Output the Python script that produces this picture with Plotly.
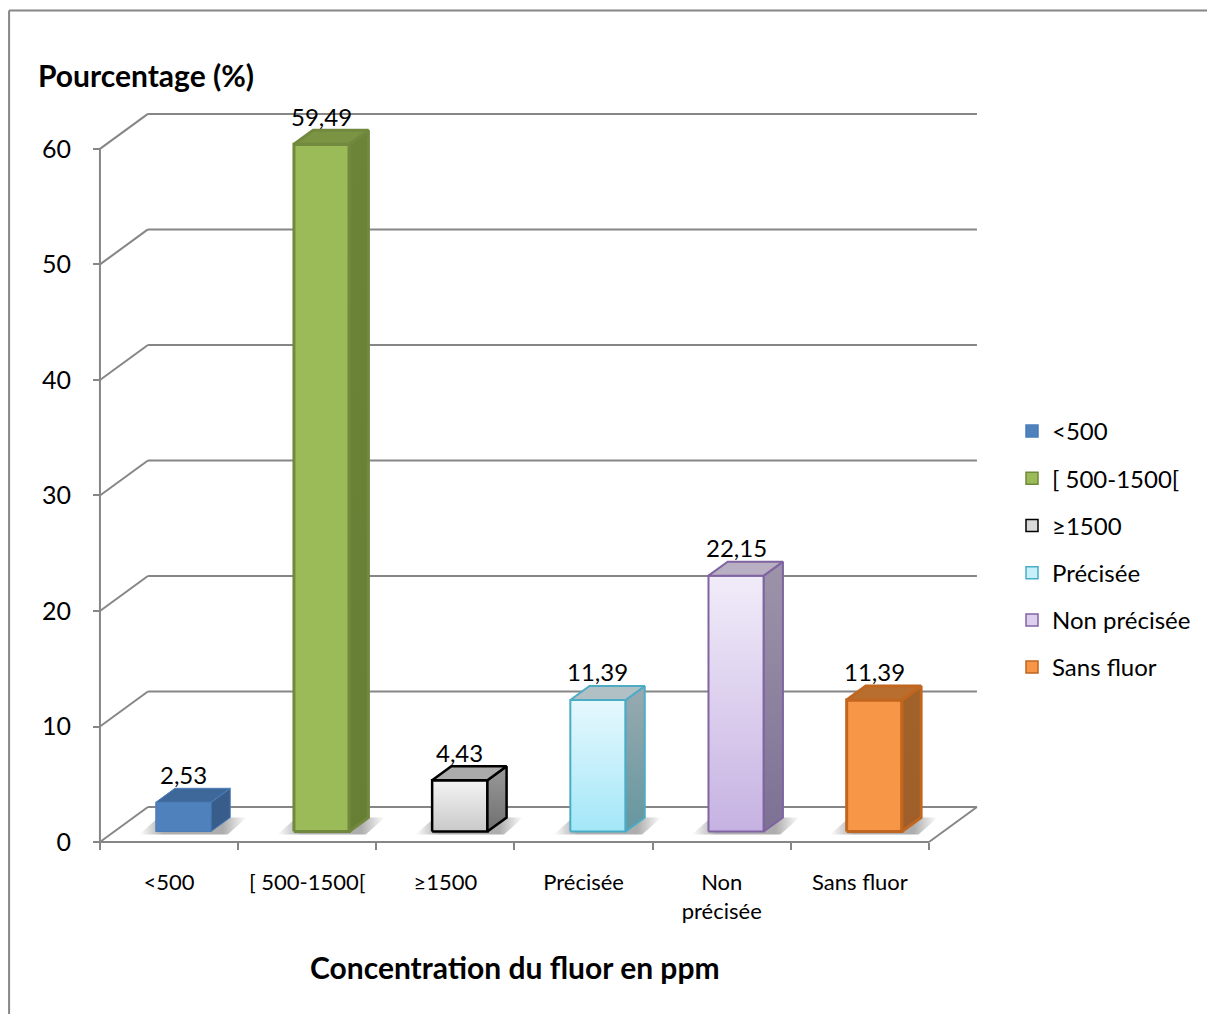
import plotly.graph_objects as go

# ---- data ----
categories = ["<500", "[ 500-1500[", "≥1500", "Précisée", "Non précisée", "Sans fluor"]
tick_labels = ["<500", "[ 500-1500[", "≥1500", "Précisée", "Non<br>précisée", "Sans fluor"]
values = [2.53, 59.49, 4.43, 11.39, 22.15, 11.39]
y_ticks = [0, 10, 20, 30, 40, 50, 60]

# ---- styles per series ----
front_top = ["#4F81BD", "#9BBB59", "#F4F4F4", "#E6F8FD", "#F1ECF9", "#F79646"]
front_bottom = ["#4F81BD", "#9BBB59", "#C9C9C9", "#A3E7F8", "#C6B2E2", "#F79646"]
side_top = ["#385D8A", "#6B8437", "#9A9A9A", "#98AAB0", "#9D94A9", "#A3612A"]
side_bottom = ["#385D8A", "#677F35", "#6F6F6F", "#66979F", "#7D7194", "#A05F2A"]
top_color = ["#3E6899", "#7A9443", "#ABABAB", "#B0C0C4", "#B8AFC2", "#B86E2F"]
edge_color = ["#4A7EBB", "#71893F", "#000000", "#4BACC6", "#8064A2", "#C0661F"]
edge_width = [1, 3, 2.5, 2, 2, 3]
legend_fill = ["#4F81BD", "#9BBB59", "#D9D9D9", "#C8F0FA", "#DCD0EE", "#F79646"]

FONT = "Lato, 'Open Sans', sans-serif"
GRID = "#868686"

# ---- 3D projection parameters (in axis units) ----
BAR_W = 0.4        # bar width as a fraction of a category slot
DEPTH_X = 0.347    # horizontal shift of the back wall
DEPTH_Y = 3.03     # vertical shift of the back wall
FRONT = 0.3        # depth fraction of the bar's front face
DEPTH = 0.4        # depth fraction occupied by a bar

X_RANGE = [-0.072, 6.398]
Y_RANGE = [-0.69, 63.8]

fig = go.Figure()
shapes = []


def line(x0, y0, x1, y1, color=GRID, width=2):
    shapes.append(dict(type="line", xref="x", yref="y", x0=x0, y0=y0, x1=x1, y1=y1,
                       line=dict(color=color, width=width), layer="below"))


n = len(categories)
# back wall gridlines and side wall diagonals
for t in y_ticks:
    line(DEPTH_X, t + DEPTH_Y, n + DEPTH_X, t + DEPTH_Y)
    line(0, t, DEPTH_X, t + DEPTH_Y)
# front vertical axis line
line(0, 0, 0, max(y_ticks))
# floor front edge and right edge
line(0, 0, n, 0)
line(n, 0, n + DEPTH_X, DEPTH_Y)


def face(xs, ys, fill_lo, fill_hi, edge, width, orient="vertical"):
    fig.add_trace(go.Scatter(
        x=xs + [xs[0]], y=ys + [ys[0]], mode="lines", fill="toself",
        line=dict(color=edge, width=width),
        fillgradient=dict(type=orient, colorscale=[[0, fill_lo], [1, fill_hi]]),
        hoverinfo="skip", showlegend=False))


annotations = []
for i, v in enumerate(values):
    c = i + 0.5
    x0 = c - BAR_W / 2 + FRONT * DEPTH_X
    x1 = c + BAR_W / 2 + FRONT * DEPTH_X
    y0 = FRONT * DEPTH_Y
    dx = DEPTH * DEPTH_X
    dy = DEPTH * DEPTH_Y

    # soft floor shadow around the bar's footprint
    sx0, sx1 = x0 - 0.12, x1 + dx + 0.12
    fig.add_trace(go.Scatter(
        x=[sx0, x1 + 0.12, sx1, x0 + dx - 0.12, sx0],
        y=[y0 - 0.25, y0 - 0.25, y0 + dy, y0 + dy, y0 - 0.25],
        mode="lines", fill="toself", line=dict(width=0, color="rgba(0,0,0,0)"),
        fillgradient=dict(type="horizontal", colorscale=[
            [0, "rgba(0,0,0,0)"], [0.22, "rgba(0,0,0,0.32)"],
            [0.78, "rgba(0,0,0,0.32)"], [1, "rgba(0,0,0,0)"]]),
        hoverinfo="skip", showlegend=False))

    # front face
    face([x0, x1, x1, x0], [y0, y0, y0 + v, y0 + v],
         front_bottom[i], front_top[i], edge_color[i], edge_width[i])
    # right side face
    face([x1, x1 + dx, x1 + dx, x1], [y0, y0 + dy, y0 + dy + v, y0 + v],
         side_bottom[i], side_top[i], edge_color[i], edge_width[i])
    # top face
    face([x0, x1, x1 + dx, x0 + dx], [y0 + v, y0 + v, y0 + v + dy, y0 + v + dy],
         top_color[i], top_color[i], edge_color[i], edge_width[i])

    annotations.append(dict(
        x=(x0 + x1) / 2, y=y0 + v, xref="x", yref="y",
        text=f"{v:.2f}".replace(".", ","), showarrow=False,
        yshift=28, font=dict(family=FONT, size=24, color="#000000")))

# legend entries
for i, name in enumerate(categories):
    fig.add_trace(go.Bar(
        x=[None], y=[None], name=name, legendgroup=f"g{i}",
        marker=dict(color=legend_fill[i], line=dict(color=edge_color[i], width=1.5)),
        showlegend=True))

# chart titles
W, H = 1207, 1014
L, R, T, B = 90, 985, 105, 850


def px_x(p):
    return (p - L) / (R - L)


def px_y(p):
    return (B - p) / (B - T)


annotations.append(dict(
    x=px_x(36), y=px_y(75), xref="paper", yref="paper", xanchor="left", yanchor="middle",
    text="<b>Pourcentage (%)</b>", showarrow=False,
    font=dict(family=FONT, size=30, color="#000000")))
annotations.append(dict(
    x=px_x(515), y=px_y(967), xref="paper", yref="paper", xanchor="center", yanchor="middle",
    text="<b>Concentration du fluor en ppm</b>", showarrow=False,
    font=dict(family=FONT, size=30, color="#000000")))

# outer chart border (top and left edges)
shapes.append(dict(type="line", xref="paper", yref="paper",
                   x0=px_x(9), y0=px_y(10.5), x1=px_x(W + 5), y1=px_y(10.5),
                   line=dict(color=GRID, width=2)))
shapes.append(dict(type="line", xref="paper", yref="paper",
                   x0=px_x(9), y0=px_y(10.5), x1=px_x(9), y1=px_y(H + 5),
                   line=dict(color=GRID, width=2)))

x_pos = (0 - Y_RANGE[0]) / (Y_RANGE[1] - Y_RANGE[0])
y_pos = (0 - X_RANGE[0]) / (X_RANGE[1] - X_RANGE[0])

fig.update_layout(
    width=W, height=H,
    margin=dict(l=L, r=W - R, t=T, b=H - B),
    paper_bgcolor="white", plot_bgcolor="white",
    showlegend=True,
    legend=dict(x=px_x(1012), y=px_y(409), xanchor="left", yanchor="top",
                font=dict(family=FONT, size=24, color="#000000"),
                tracegroupgap=13, bgcolor="rgba(0,0,0,0)"),
    xaxis=dict(range=X_RANGE, anchor="free", position=x_pos,
               tickmode="array", tickvals=[i + 0.5 for i in range(n)], ticktext=tick_labels,
               ticks="", showgrid=False, zeroline=False, showline=False,
               ticklabelstandoff=25,
               tickfont=dict(family=FONT, size=22, color="#000000"),
               minor=dict(tickmode="array", tickvals=list(range(n + 1)), ticks="outside",
                          ticklen=7, tickwidth=2, tickcolor=GRID, showgrid=False),
               fixedrange=True),
    yaxis=dict(range=Y_RANGE, anchor="free", position=y_pos,
               tickmode="array", tickvals=y_ticks, ticktext=[str(t) for t in y_ticks],
               ticks="outside", ticklen=7, tickwidth=2, tickcolor=GRID,
               ticklabelstandoff=17,
               showgrid=False, zeroline=False, showline=False,
               tickfont=dict(family=FONT, size=25, color="#000000"),
               fixedrange=True),
    shapes=shapes,
    annotations=annotations,
)

fig.write_html("out.html")
